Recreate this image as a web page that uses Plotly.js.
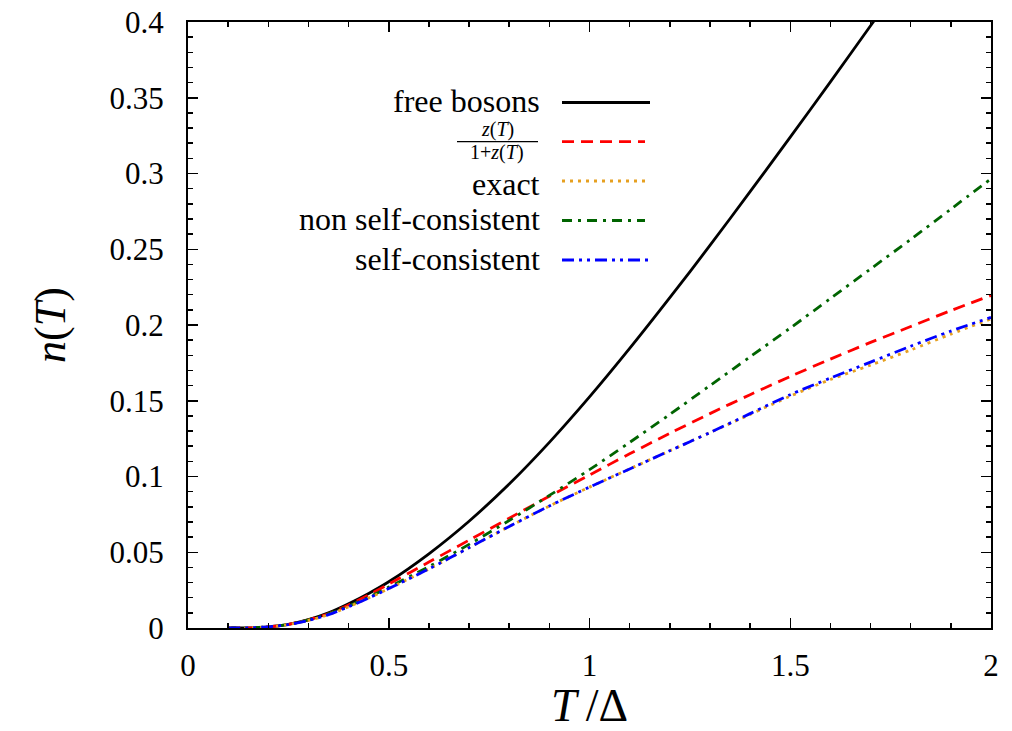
<!DOCTYPE html>
<html>
<head>
<meta charset="utf-8">
<script src="https://cdn.plot.ly/plotly-3.0.1.min.js"></script>
<style>html,body{margin:0;padding:0;background:#fff;}#chart{width:1012px;height:731px;}</style>
</head>
<body>
<div id="chart"></div>
<script>
// ---- data ----
const T = [0.1,0.15,0.2,0.25,0.3,0.35,0.4,0.45,0.5,0.6,0.7,0.8,0.9,1.0,1.1,1.2,1.3,1.4,1.5,1.6,1.7,1.8,1.9,2.0];
const freeBosons = [0.0000,0.0001,0.0008,0.0024,0.0055,0.0100,0.0160,0.0228,0.0305,0.0490,0.0705,0.0950,0.1225,0.1525,0.1845,0.2180,0.2525,0.2880,0.3240,0.3605,0.3975,0.4350,0.4730,0.5110];
const zRatio     = [0.0000,0.0001,0.0008,0.0024,0.0054,0.0094,0.0152,0.0218,0.0290,0.0435,0.0580,0.0725,0.0870,0.1010,0.1150,0.1285,0.1415,0.1540,0.1660,0.1775,0.1885,0.1990,0.2095,0.2195];
const exact      = [0.0000,0.0001,0.0008,0.0023,0.0050,0.0088,0.0140,0.0198,0.0260,0.0390,0.0530,0.0670,0.0805,0.0930,0.1050,0.1170,0.1290,0.1410,0.1530,0.1640,0.1735,0.1835,0.1940,0.2040];
const nonSelfConsistent = [0.0000,0.0001,0.0008,0.0024,0.0054,0.0093,0.0145,0.0203,0.0270,0.0405,0.0552,0.0710,0.0875,0.1045,0.1225,0.1410,0.1600,0.1790,0.1980,0.2175,0.2370,0.2565,0.2765,0.2965];
const selfConsistent    = [0.0000,0.0001,0.0008,0.0023,0.0050,0.0088,0.0140,0.0198,0.0260,0.0390,0.0530,0.0670,0.0805,0.0930,0.1050,0.1170,0.1290,0.1415,0.1540,0.1650,0.1755,0.1860,0.1960,0.2050];

const xTickVals = [0,0.5,1,1.5,2];
const xTickText = ['0','0.5','1','1.5','2'];
const yTickVals = [0,0.05,0.1,0.15,0.2,0.25,0.3,0.35,0.4];
const yTickText = ['0','0.05','0.1','0.15','0.2','0.25','0.3','0.35','0.4'];

const seriesNames  = ['free bosons','z(T)/(1+z(T))','exact','non self-consistent','self-consistent'];
const seriesColors = ['#000000','#ff0000','#e6a020','#006400','#0000ff'];
const seriesDash   = ['solid','12px,7px','3px,5px','10px,6px,3px,6px','12px,5px,3px,5px,3px,5px'];
const seriesY = [freeBosons, zRatio, exact, nonSelfConsistent, selfConsistent];

const FONT = '"Liberation Serif", "DejaVu Serif", serif';

// draw order: exact under self-consistent
const order = [0,1,3,2,4];
const traces = order.map(i => ({
  x: T, y: seriesY[i], type: 'scatter', mode: 'lines', name: seriesNames[i],
  line: {color: seriesColors[i], width: 2.8, dash: seriesDash[i], shape: 'spline', smoothing: 0.8},
  showlegend: false, hoverinfo: 'skip'
}));

// plot area in pixels
const L = 188, R = 991, TOP = 22, BOT = 628, W = 1012, H = 731;
const px = v => (v - L) / (R - L);
const py = v => (BOT - v) / (BOT - TOP);

// custom legend (text left, sample line right)
const legRows = [102.5, 141.7, 181, 220.5, 260];
const legTextY = [101, 0, 184, 219, 258.5];
const legLineEnd = [650, 645, 645, 645, 650];
const shapes = [];
const annotations = [];
legRows.forEach((yy, i) => {
  shapes.push({type:'line', xref:'paper', yref:'paper', x0:px(562), x1:px(legLineEnd[i]), y0:py(yy), y1:py(yy),
    line:{color:seriesColors[i], width:2.8, dash:seriesDash[i]}});
  if (i !== 1) {
    annotations.push({xref:'paper', yref:'paper', x:px(542), y:py(legTextY[i]), xanchor:'right', yanchor:'middle',
      text: seriesNames[i], showarrow:false, font:{family:FONT, size:32, color:'#000'}});
  }
});
// fraction label z(T)/(1+z(T))
shapes.push({type:'line', xref:'paper', yref:'paper', x0:px(457), x1:px(538), y0:py(141.7), y1:py(141.7),
  line:{color:'#000', width:1.2}});
annotations.push({xref:'paper', yref:'paper', x:px(497.5), y:py(129), xanchor:'center', yanchor:'middle',
  text:'<i>z</i>(<i>T</i>)', showarrow:false, font:{family:FONT, size:20, color:'#000'}});
annotations.push({xref:'paper', yref:'paper', x:px(497), y:py(152.5), xanchor:'center', yanchor:'middle',
  text:'1+<i>z</i>(<i>T</i>)', showarrow:false, font:{family:FONT, size:20, color:'#000'}});

const axisCommon = {
  showline:true, linecolor:'#000', linewidth:2, mirror:'allticks',
  ticks:'inside', ticklen:10, tickwidth:1.5, tickcolor:'#000',
  showgrid:false, zeroline:false, tickmode:'array',
  tickfont:{family:FONT, size:31, color:'#000'}
};

const layout = {
  width:W, height:H,
  font:{family:FONT, color:'#000'},
  margin:{l:L, r:W-R, t:TOP, b:H-BOT, pad:0},
  paper_bgcolor:'#fff', plot_bgcolor:'#fff',
  xaxis: Object.assign({}, axisCommon, {
    range:[0,2], tickvals:xTickVals, ticktext:xTickText, ticklabelstandoff:9,
    minor:{dtick:0.1, tick0:0, ticks:'inside', ticklen:5, tickwidth:1.5, tickcolor:'#000', showgrid:false},
    title:{text:'<i>T</i>\u2009/Δ', font:{family:FONT, size:46, color:'#000'}, standoff:2}
  }),
  yaxis: Object.assign({}, axisCommon, {
    range:[0,0.4], tickvals:yTickVals, ticktext:yTickText, ticklabelstandoff:16,
    minor:{dtick:0.01, tick0:0, ticks:'inside', ticklen:5, tickwidth:1.5, tickcolor:'#000', showgrid:false},
    title:{text:'<i>n</i>(<i>T</i>)', font:{family:FONT, size:44, color:'#000'}, standoff:30}
  }),
  shapes: shapes,
  annotations: annotations,
  showlegend:false
};

Plotly.newPlot('chart', traces, layout, {staticPlot:true, displayModeBar:false});
</script>
</body>
</html>
